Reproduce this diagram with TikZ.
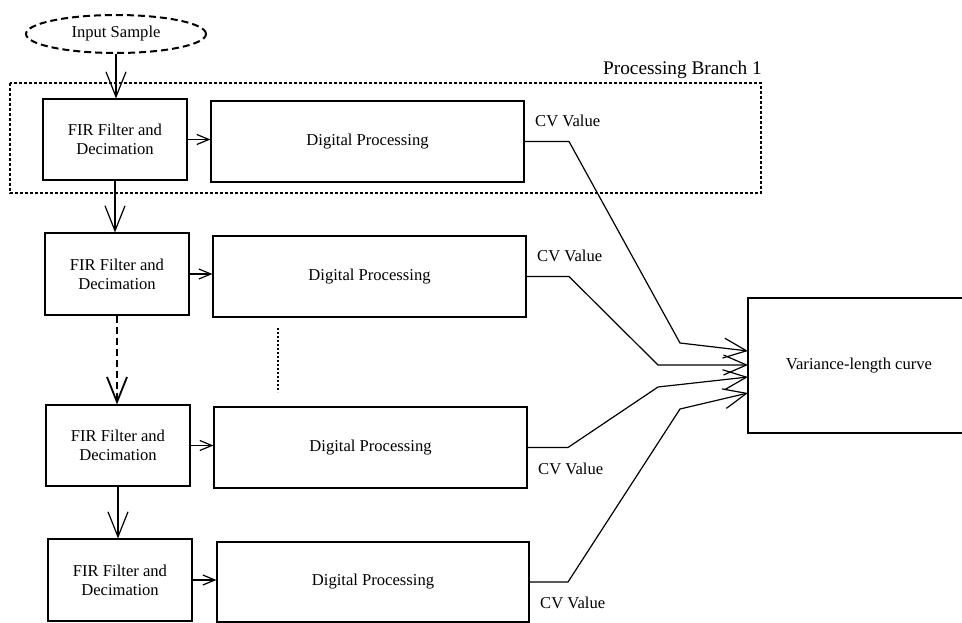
\documentclass[tikz,border=0pt]{standalone}
\usepackage{fontspec}
\setmainfont{Liberation Serif}
\usetikzlibrary{arrows.meta,shapes.geometric}

\tikzset{
  base/.style={draw=black, line width=1.2pt},
  filterbox/.style={base, rectangle, minimum width=144pt, minimum height=81pt,
    inner sep=0pt, align=center, font=\fontsize{16.6}{19}\selectfont},
  procbox/.style={base, rectangle, minimum width=313pt, minimum height=81pt,
    inner sep=0pt, font=\fontsize{16.6}{19}\selectfont},
  cvlabel/.style={anchor=base west, inner sep=0pt, font=\fontsize{16.6}{19}\selectfont},
  bigtip/.tip={Straight Barb[length=25pt,width=20pt]},
  smalltip/.tip={Straight Barb[length=12pt,width=10pt]},
  cvtip/.tip={Straight Barb[length=23pt,width=20pt]},
  down/.style={line width=1.2pt, -{bigtip}},
  side/.style={line width=1.2pt, -{smalltip}},
  cvline/.style={line width=1.2pt, line join=miter, -{cvtip}},
}

\begin{document}
\begin{tikzpicture}[x=1pt, y=-1pt]
  \clip (0,0) rectangle (962,623);

  % input source
  \node[ellipse, draw=black, line width=2pt, dash pattern=on 7pt off 4pt,
        minimum width=180pt, minimum height=38pt, inner sep=0pt,
        font=\fontsize{16.6}{19}\selectfont] (in) at (116,34) {Input Sample};

  % first processing branch frame
  \draw[line width=1.8pt, dash pattern=on 3pt off 2pt] (10,83) rectangle (761,193);
  \node[anchor=base east, inner sep=0pt, font=\fontsize{19.3}{22}\selectfont]
    (branchlabel) at (762,75) {Processing Branch 1};

  % filter stages
  \node[filterbox] (f1) at (115,139.5) {FIR Filter and\\Decimation};
  \node[filterbox, minimum height=82pt] (f2) at (117,274) {FIR Filter and\\Decimation};
  \node[filterbox] (f3) at (118,445.5) {FIR Filter and\\Decimation};
  \node[filterbox, minimum height=82pt] (f4) at (120,580) {FIR Filter and\\Decimation};

  % processing blocks
  \node[procbox] (p1) at (367.5,141.5) {Digital Processing};
  \node[procbox] (p2) at (369.5,276.5) {Digital Processing};
  \node[procbox] (p3) at (370.5,447.5) {Digital Processing};
  \node[procbox, minimum width=312pt, minimum height=80pt] (p4) at (373,582) {Digital Processing};

  % output block
  \node[base, rectangle, minimum width=222pt, minimum height=135pt, inner sep=0pt,
        font=\fontsize{16.6}{19}\selectfont] (vl) at (859,365.5) {Variance-length curve};

  % decimation chain
  \draw[down] (in.south) -- (in.south |- f1.north);
  \draw[down] (f1.south) -- (f1.south |- f2.north);
  \draw[down, dash pattern=on 7pt off 4pt, line width=1.8pt] (f2.south) -- (f2.south |- f3.north);
  \draw[down] (f3.south) -- (f3.south |- f4.north);

  % filter to processing
  \draw[side] (f1.east) -- (f1.east -| p1.west);
  \draw[side] (f2.east) -- (f2.east -| p2.west);
  \draw[side] (f3.east) -- (f3.east -| p3.west);
  \draw[side] (f4.east) -- (f4.east -| p4.west);

  % elided branches
  \draw[line width=1.8pt, dash pattern=on 2pt off 2pt] (278,328) -- (278,392);

  % CV value routes
  \coordinate (a1) at (569,141.5); \coordinate (b1) at (680,343); \coordinate (t1) at (748,351);
  \coordinate (a2) at (569,276.5); \coordinate (b2) at (658,365); \coordinate (t2) at (748,365);
  \coordinate (a3) at (568,447.5); \coordinate (b3) at (658,387); \coordinate (t3) at (748,377);
  \coordinate (a4) at (568,582);   \coordinate (b4) at (680,409); \coordinate (t4) at (748,393);

  \draw[cvline] (p1.east) -- (a1) -- (b1) -- (t1);
  \draw[cvline] (p2.east) -- (a2) -- (b2) -- (t2);
  \draw[cvline] (p3.east) -- (a3) -- (b3) -- (t3);
  \draw[cvline] (p4.east) -- (a4) -- (b4) -- (t4);

  \node[cvlabel] (cv1) at (535,127) {CV Value};
  \node[cvlabel] (cv2) at (537,261) {CV Value};
  \node[cvlabel] (cv3) at (538,474) {CV Value};
  \node[cvlabel] (cv4) at (540,608) {CV Value};
\end{tikzpicture}
\end{document}
